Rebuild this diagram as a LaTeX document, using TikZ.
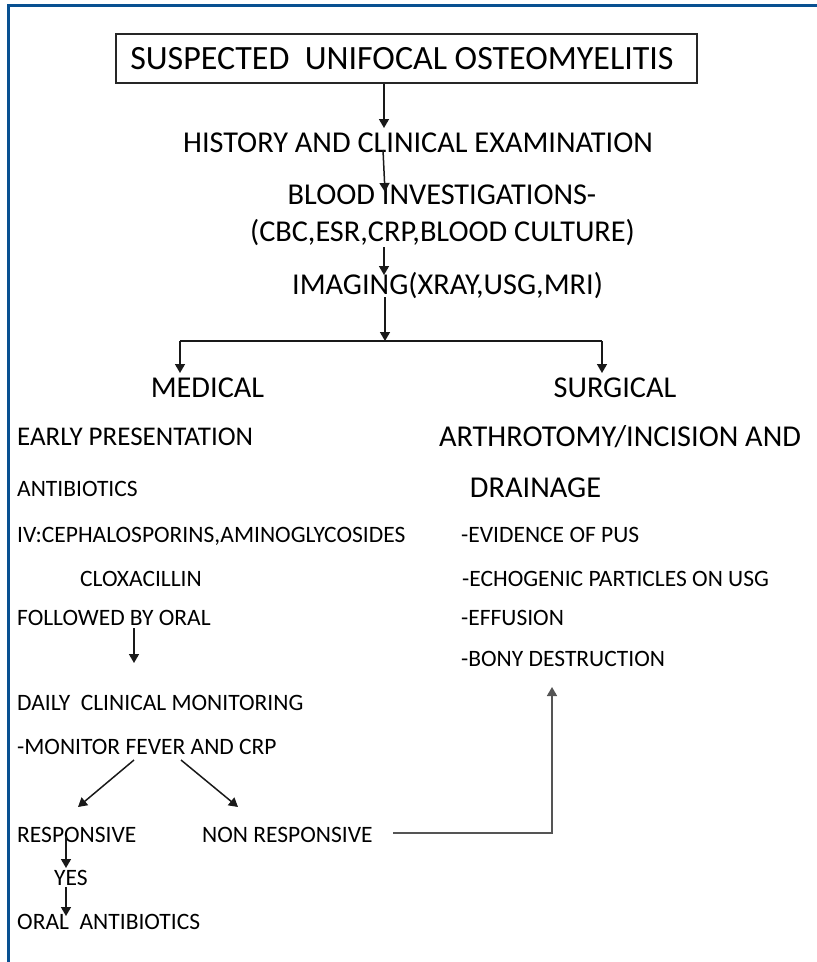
\documentclass[tikz,border=0pt]{standalone}
\usepackage{fontspec}
\setmainfont{Carlito}
\usetikzlibrary{arrows.meta}
\definecolor{framebl}{RGB}{8,80,145}
\definecolor{linkgray}{RGB}{85,85,85}
\begin{document}
\begin{tikzpicture}[x=1pt,y=-1pt,
  txt/.style={inner sep=0pt,text depth=0pt},
  big/.style={txt,font=\fontsize{34}{40}\selectfont,text height=21.5pt},
  head/.style={txt,font=\fontsize{30.3}{36}\selectfont,text height=19pt},
  mid/.style={txt,font=\fontsize{27}{32}\selectfont,text height=17pt},
  small/.style={txt,font=\fontsize{23.5}{28}\selectfont,text height=14.9pt},
  lft/.style={anchor=west},
  tip/.style={-{Triangle[width=10pt,length=9pt]}},
  flow/.style={draw=black!90,line width=1.5pt,tip},
  link/.style={draw=linkgray,line width=1.6pt},
]
\useasboundingbox (0,0) rectangle (817,962);
% outer frame (top and left edges)
\draw[framebl,line width=3pt] (8.5,962) -- (8.5,5.5) -- (817,5.5);

% title box
\node[draw=black!85,line width=1.2pt,minimum width=581pt,minimum height=49pt,
      inner sep=0pt,font=\fontsize{34}{40}\selectfont] (title) at (406.5,58.5)
      {\hspace*{-9pt}SUSPECTED\ \ UNIFOCAL OSTEOMYELITIS};

% main sequence
\node[head] (hist)  at (418,143)   {HISTORY AND CLINICAL EXAMINATION};
\node[head] (blood) at (442,195)   {BLOOD INVESTIGATIONS-};
\node[head] (tests) at (442.5,232) {(CBC,ESR,CRP,BLOOD CULTURE)};
\node[head] (imag)  at (447.5,285) {IMAGING(XRAY,USG,MRI)};

\coordinate (a1e) at (384,128);
\coordinate (a2) at (383,150);  \coordinate (a2e) at (385,192);
\coordinate (a3) at (384,247);  \coordinate (a3e) at (384,275);
\coordinate (a4) at (385,297);  \coordinate (split) at (385,341);
\coordinate (sl) at (180,341);  \coordinate (sr) at (602,341);
\coordinate (slt) at (180,373); \coordinate (srt) at (602,373);

\draw[flow] (title.south -| a1e) -- (a1e);
\draw[flow] (a2) -- (a2e);
\draw[flow] (a3) -- (a3e);
\draw[flow] (a4) -- (split);
\draw[line width=1.5pt,black!90] (sl) -- (sr);
\draw[flow] (sl) -- (slt);
\draw[flow] (sr) -- (srt);

% medical branch
\node[head] (med) at (207.5,388) {MEDICAL};
\node[mid,lft]   (early) at (17,437) {EARLY PRESENTATION};
\node[small,lft] (anti)  at (17,489) {ANTIBIOTICS};
\node[small,lft] (iv)    at (17,535) {IV:CEPHALOSPORINS,AMINOGLYCOSIDES};
\node[small,lft] (clox)  at (80,579) {CLOXACILLIN};
\node[small,lft] (oral)  at (17,618) {FOLLOWED BY ORAL};
\node[small,lft] (daily) at (17,703) {DAILY\ \ CLINICAL MONITORING};
\node[small,lft] (mon)   at (17,747) {-MONITOR FEVER AND CRP};
\node[small,lft] (resp)  at (17,835) {RESPONSIVE};
\node[small,lft] (nresp) at (202,835) {NON RESPONSIVE};
\node[small,lft] (yes)   at (54,878) {YES};
\node[small,lft] (orab)  at (17,922) {ORAL\ \ ANTIBIOTICS};

\coordinate (b1) at (134,628);  \coordinate (b1e) at (134,663);
\coordinate (c1) at (134,760);  \coordinate (c1e) at (78,807);
\coordinate (c2) at (181,760);  \coordinate (c2e) at (238,807);
\coordinate (d1) at (66,837);   \coordinate (d1e) at (66,868);
\coordinate (d2) at (66,887);   \coordinate (d2e) at (66,916);
\draw[flow] (b1) -- (b1e);
\draw[flow] (c1) -- (c1e);
\draw[flow] (c2) -- (c2e);
\draw[flow] (d1) -- (d1e);
\draw[flow] (d2) -- (d2e);

% surgical branch
\node[head] (surg)  at (615,388) {SURGICAL};
\node[head] (arth)  at (620,437) {ARTHROTOMY/INCISION AND};
\node[head] (drain) at (535.5,488) {DRAINAGE};
\node[small,lft] (pus)  at (461,535) {-EVIDENCE OF PUS};
\node[small,lft] (echo) at (462,579) {-ECHOGENIC PARTICLES ON USG};
\node[small,lft] (eff)  at (461,618) {-EFFUSION};
\node[small,lft] (bony) at (461,659) {-BONY DESTRUCTION};

% non responsive cases go to surgery
\coordinate (e0) at (393,833);
\coordinate (e1) at (552,833);
\coordinate (e2) at (552,687);
\draw[link,tip] (e0) -- (e1) -- (e2);
\end{tikzpicture}
\end{document}
